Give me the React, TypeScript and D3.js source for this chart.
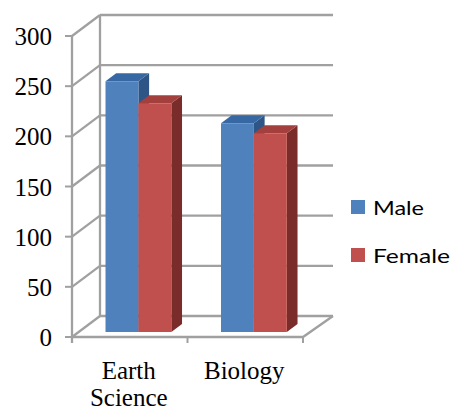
import React from "react";
import * as d3 from "d3";

const categories = ["Earth Science", "Biology"];
const categoryLines = [["Earth", "Science"], ["Biology"]];
const seriesNames = ["Male", "Female"];
const maleValues = [250, 208];
const femaleValues = [228, 198];
const yTicks = [0, 50, 100, 150, 200, 250, 300];
const legendWidths = [51, 77];

const colors = {
  Male: { front: "#4F81BD", top: "#3868A3", side: "#2D5686" },
  Female: { front: "#C0504D", top: "#A3403D", side: "#7A2C2A" },
};

export default function App() {
  const W = 451, H = 410;
  const DX = 28, DY = 21; // full depth offset
  const y = d3.scaleLinear().domain([0, 300]).range([337, 36]);
  const xLeft = 72, xRight = 303;
  const x0 = d3.scaleBand<string>().domain(categories).range([xLeft + 2, xRight + 2]).paddingInner(0.43).paddingOuter(0.215);
  const x1 = d3.scaleBand<string>().domain(seriesNames).range([0, x0.bandwidth()]);
  const zF = 0.238, zB = 0.62;
  const P = (x: number, v: number, z: number) => [x + DX * z, y(v) - DY * z];
  const pts = (arr: number[][]) => arr.map((p) => p.join(",")).join(" ");
  const grid = "#A0A0A0";

  const data = categories.map((c, i) => ({ c, vals: [maleValues[i], femaleValues[i]] }));

  return (
    <svg width={W} height={H} style={{ position: "absolute", left: 0, top: 0 }}>
      <rect width={W} height={H} fill="#fff" />
      {yTicks.map((t) => {
        const [bx, by] = P(xLeft, t, 1);
        const [fx, fy] = P(xLeft, t, 0);
        return (
          <g key={t}>
            <line x1={fx} y1={fy} x2={bx} y2={by} stroke={grid} strokeWidth={2.3} />
            <line x1={bx} y1={by} x2={xRight + DX + 2} y2={by} stroke={grid} strokeWidth={2.3} />
            <line x1={xLeft - 7} y1={fy} x2={xLeft} y2={fy} stroke={grid} strokeWidth={2} />
            <text x={52} y={fy + 9} textAnchor="end" fontFamily="Liberation Serif" fontSize={25} fill="#000">{t}</text>
          </g>
        );
      })}
      <line x1={xLeft + DX} y1={y(0) - DY} x2={xLeft + DX} y2={y(300) - DY} stroke={grid} strokeWidth={2.3} />
      <line x1={xLeft} y1={y(0) + 6} x2={xLeft} y2={y(300)} stroke={grid} strokeWidth={2.3} />
      <polyline points={pts([[xLeft, y(0)], [xRight, y(0)], [xRight + DX + 2, y(0) - DY]])} fill="none" stroke={grid} strokeWidth={2.3} />
      {[xLeft, (xLeft + xRight) / 2, xRight].map((tx, i) => (
        <line key={i} x1={tx} y1={y(0)} x2={tx} y2={y(0) + 6} stroke={grid} strokeWidth={2} />
      ))}
      {data.map((d, ci) => (
        <g key={d.c}>
          {seriesNames.map((s, si) => {
            const col = colors[s as "Male" | "Female"];
            const xa = (x0(d.c) as number) + (x1(s) as number);
            const xb = xa + x1.bandwidth();
            const v = d.vals[si];
            const front = [P(xa, 0, zF), P(xb, 0, zF), P(xb, v, zF), P(xa, v, zF)];
            const top = [P(xa, v, zF), P(xb, v, zF), P(xb, v, zB), P(xa, v, zB)];
            const side = [P(xb, 0, zF), P(xb, 0, zB), P(xb, v, zB), P(xb, v, zF)];
            return (
              <g key={s}>
                <polygon points={pts(side)} fill={col.side} />
                <polygon points={pts(top)} fill={col.top} />
                <polygon points={pts(front)} fill={col.front} />
              </g>
            );
          })}
          {categoryLines[ci].map((ln, li) => (
            <text key={li} x={(x0(d.c) as number) + x0.bandwidth() / 2 - 3} y={379 + li * 27} textAnchor="middle" fontFamily="Liberation Serif" fontSize={25} fill="#000">{ln}</text>
          ))}
        </g>
      ))}
      {seriesNames.map((s, i) => (
        <g key={s} transform={`translate(351, ${200 + i * 48})`}>
          <rect width={14} height={14} fill={colors[s as "Male" | "Female"].front} />
          <text x={22} y={15} fontFamily="Lato" fontSize={20} fill="#000" textLength={legendWidths[i]} lengthAdjust="spacingAndGlyphs">{s}</text>
        </g>
      ))}
    </svg>
  );
}
